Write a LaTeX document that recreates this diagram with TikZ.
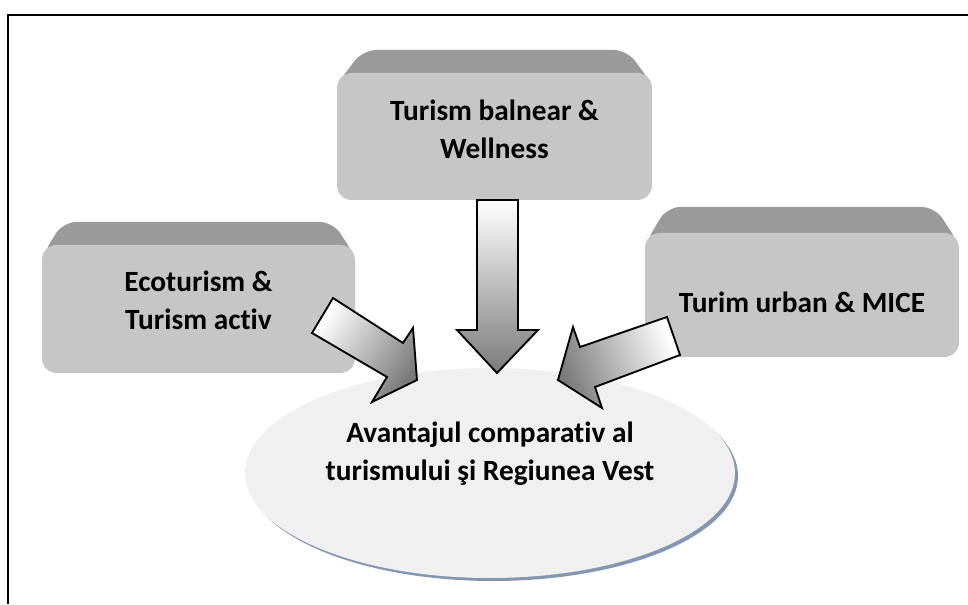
\documentclass[tikz,border=0pt]{standalone}
\usepackage{fontspec}
\setmainfont{Carlito}[Ligatures=NoCommon]
\definecolor{facegray}{HTML}{C6C6C6}
\definecolor{bevelgray}{HTML}{9A9A9A}
\definecolor{ellfill}{HTML}{F0F0F0}
\definecolor{ellshadow}{HTML}{8597B0}
\definecolor{arrdark}{HTML}{7A7A7A}
\begin{document}
\begin{tikzpicture}[x=0.75pt,y=0.75pt,
  bevel/.style={fill=bevelgray, rounded corners=10pt},
  face/.style={fill=facegray, rounded corners=11pt},
  label/.style={font=\fontsize{22}{28.5}\selectfont\bfseries, align=center, inner sep=0pt},
  blockarrow/.style={draw=black, line width=1.4pt, line join=miter, shading=axis, top color=white, bottom color=arrdark}
]
\useasboundingbox (0,0) rectangle (968,604);
% frame
\draw[black, line width=1.5pt] (8,0) -- (8,589) -- (968,589);

% top box
\fill[bevel] (337,520) -- (363,554) -- (627,554) -- (652,520) -- cycle;
\fill[face] (337,404) rectangle (652,531);
\node[label] (top) at (494.5,475) {Turism balnear \&\\Wellness};

% left box
\fill[bevel] (42,348) -- (63,382) -- (333,382) -- (355,348) -- cycle;
\fill[face] (42,231) rectangle (355,359);
\node[label] (left) at (198.5,304) {Ecoturism \&\\Turism activ};

% right box
\fill[bevel] (645,360) -- (667,397) -- (935,397) -- (959,360) -- cycle;
\fill[face] (645,247) rectangle (959,371);
\node[label] (right) at (802,302) {Turim urban \& MICE};

% ellipse
\fill[ellshadow] (493,128) ellipse [x radius=245, y radius=105];
\fill[ellfill] (490,131) ellipse [x radius=245, y radius=105];
\node[label] (center) at (490,150) {Avantajul comparativ al\\turismului şi Regiunea Vest};

% arrows
\path[blockarrow, shading angle=0]
  (477,404) -- (518,404) -- (518,274) -- (538,274) -- (497,231) -- (457,274) -- (477,274) -- cycle;
\path[blockarrow, shading angle=56]
  (333,306) -- (403,261) -- (413,276) -- (417,224) -- (372,202) -- (387,227) -- (312,271) -- cycle;
\path[blockarrow, shading angle=-69]
  (667,287) -- (580,257) -- (573,277) -- (558,224) -- (602,196) -- (595,217) -- (680,249) -- cycle;
\end{tikzpicture}
\end{document}
